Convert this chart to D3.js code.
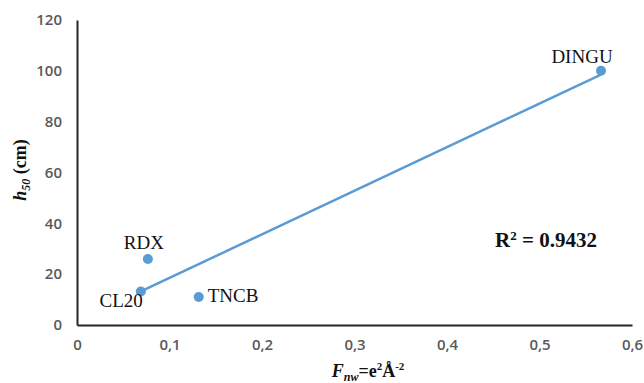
<!DOCTYPE html>
<html>
<head>
<meta charset="utf-8">
<script src="https://cdn.jsdelivr.net/npm/d3@7"></script>
<style>
  body { margin: 0; background: #fff; }
  .tick text { font-family: "Open Sans", sans-serif; font-weight: 600; font-size: 15px; fill: #595959; }
  .lbl { font-family: "Liberation Serif", "DejaVu Serif", serif; font-size: 19px; fill: #111; }
</style>
</head>
<body>
<div id="chart"></div>
<script>
// compounds and their values
const names = ["CL20", "RDX", "TNCB", "DINGU"];
const fnw = [0.069, 0.0766, 0.1316, 0.5665];
const h50 = [13.2, 26, 11, 100];
const xTicks = [0, 0.1, 0.2, 0.3, 0.4, 0.5, 0.6];
const yTicks = [0, 20, 40, 60, 80, 100, 120];
const rSquared = "0.9432";

const width = 644, height = 383;
const margin = { top: 20, right: 12, bottom: 58, left: 77 };
const contentWidth = width - margin.left - margin.right;
const contentHeight = height - margin.top - margin.bottom;
const color = "#5B9BD5";

// label offsets from each point
const labelPos = {
  CL20: { dx: 2, dy: 16, anchor: "end" },
  RDX: { dx: -4, dy: -10, anchor: "middle" },
  TNCB: { dx: 9, dy: 5, anchor: "start" },
  DINGU: { dx: -19, dy: -8, anchor: "middle" }
};

const data = names.map((n, i) => ({ name: n, x: fnw[i], y: h50[i] }));

const svg = d3.select("#chart")
  .append("svg")
  .attr("width", width)
  .attr("height", height);

const g = svg.append("g")
  .attr("transform", "translate(" + margin.left + "," + margin.top + ")");

const x = d3.scaleLinear().domain([0, 0.6]).range([0, contentWidth]);
const y = d3.scaleLinear().domain([0, 120]).range([contentHeight, 0]);

const fmt = d => d === 0 ? "0" : d3.format(".1f")(d).replace(".", ",");

const xAxis = g.append("g")
  .attr("transform", "translate(0," + contentHeight + ")")
  .call(d3.axisBottom(x).tickValues(xTicks).tickSize(0).tickPadding(14).tickFormat(fmt));
xAxis.select(".domain").attr("stroke", "#262626").attr("stroke-width", 2);

const yAxis = g.append("g")
  .call(d3.axisLeft(y).tickValues(yTicks).tickSize(0).tickPadding(15));
yAxis.select(".domain").attr("stroke", "#262626").attr("stroke-width", 2);

// linear trendline (least squares), spanning the data's x range
const mx = d3.mean(data, d => d.x), my = d3.mean(data, d => d.y);
const slope = d3.sum(data, d => (d.x - mx) * (d.y - my)) / d3.sum(data, d => (d.x - mx) ** 2);
const icpt = my - slope * mx;
const xr = d3.extent(data, d => d.x);

g.append("path")
  .datum(xr)
  .attr("fill", "none")
  .attr("stroke", color)
  .attr("stroke-width", 2.5)
  .attr("d", d3.line().x(d => x(d)).y(d => y(slope * d + icpt)));

g.selectAll(".pt")
  .data(data)
  .enter()
  .append("circle")
  .attr("class", "pt")
  .attr("cx", d => x(d.x))
  .attr("cy", d => y(d.y))
  .attr("r", 5)
  .attr("fill", color);

g.selectAll(".lbl")
  .data(data)
  .enter()
  .append("text")
  .attr("class", "lbl")
  .attr("x", d => x(d.x) + labelPos[d.name].dx)
  .attr("y", d => y(d.y) + labelPos[d.name].dy)
  .attr("text-anchor", d => labelPos[d.name].anchor)
  .text(d => d.name);

// R squared
const r2 = svg.append("text")
  .attr("x", 495)
  .attr("y", 247)
  .attr("font-family", "Liberation Serif, serif")
  .attr("font-weight", "bold")
  .attr("font-size", 21)
  .attr("fill", "#111");
r2.append("tspan").text("R");
r2.append("tspan").attr("font-size", 13).attr("dy", -7).text("2");
r2.append("tspan").attr("dy", 7).text(" = " + rSquared);

// y axis title
const yt = svg.append("text")
  .attr("transform", "translate(26,170) rotate(-90)")
  .attr("text-anchor", "middle")
  .attr("font-family", "Liberation Serif, serif")
  .attr("font-weight", "bold")
  .attr("font-size", 18)
  .attr("fill", "#111");
yt.append("tspan").attr("font-style", "italic").text("h");
yt.append("tspan").attr("font-style", "italic").attr("font-size", 12).attr("dy", 4).text("50");
yt.append("tspan").attr("dy", -4).text(" (cm)");

// x axis title
const xt = svg.append("text")
  .attr("x", 368)
  .attr("y", 377)
  .attr("text-anchor", "middle")
  .attr("font-family", "Liberation Serif, serif")
  .attr("font-weight", "bold")
  .attr("font-size", 18)
  .attr("fill", "#111");
xt.append("tspan").attr("font-style", "italic").text("F");
xt.append("tspan").attr("font-style", "italic").attr("font-size", 12).attr("dy", 4).text("nw");
xt.append("tspan").attr("dy", -4).text("=e");
xt.append("tspan").attr("font-size", 11).attr("dy", -7).text("2");
xt.append("tspan").attr("dy", 7).text("Å");
xt.append("tspan").attr("font-size", 11).attr("dy", -7).text("-2");
</script>
</body>
</html>
